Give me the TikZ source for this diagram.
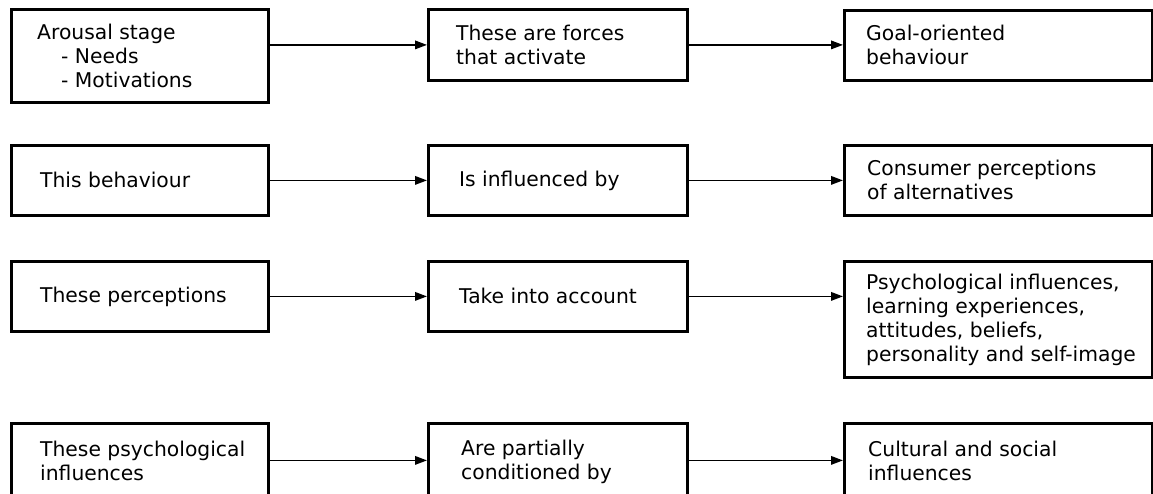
\documentclass[tikz,border=0pt]{standalone}
\usepackage{fontspec}
\setmainfont{DejaVu Sans}
\usetikzlibrary{arrows.meta}
\begin{document}
\begin{tikzpicture}[x=1pt, y=-1pt,
  stagebox/.style={draw, rectangle, line width=2.8pt, anchor=north west, inner sep=0pt},
  col1/.style={stagebox, minimum width=257pt},
  col2/.style={stagebox, minimum width=259pt},
  col3/.style={stagebox, minimum width=308pt},
  txt/.style={anchor=west, align=left, inner sep=0pt, font=\fontsize{20.3}{24}\selectfont},
  link/.style={line width=1.8pt, -{Triangle[length=12pt,width=8.5pt]}}]
\useasboundingbox (0,0) rectangle (1153,493);
\clip (0,0) rectangle (1153,493);

% Row 1
\node[col1, minimum height=93pt] (a1) at (10,8) {};
\node[col2, minimum height=71pt] (a2) at (427,8) {};
\node[col3, minimum height=70pt] (a3) at (843,9) {};
\node[txt] (ta1) at ([xshift=27pt]a1.west) {Arousal stage\\\hspace*{24pt}- Needs\\\hspace*{24pt}- Motivations};
\node[txt] (ta2) at ([xshift=29pt]a2.west) {These are forces\\that activate};
\node[txt] (ta3) at ([xshift=23pt]a3.west) {Goal-oriented\\behaviour};

% Row 2
\node[col1, minimum height=70pt] (b1) at (10,144) {};
\node[col2, minimum height=70pt] (b2) at (427,144) {};
\node[col3, minimum height=70pt] (b3) at (843,144) {};
\node[txt] (tb1) at ([xshift=30pt]b1.west) {This behaviour};
\node[txt] (tb2) at ([xshift=32pt]b2.west) {Is influenced by};
\node[txt] (tb3) at ([xshift=24pt]b3.west) {Consumer perceptions\\of alternatives};

% Row 3
\node[col1, minimum height=70pt] (c1) at (10,260) {};
\node[col2, minimum height=70pt] (c2) at (427,260) {};
\node[col3, minimum height=116pt] (c3) at (843,260) {};
\node[txt] (tc1) at ([xshift=30pt]c1.west) {These perceptions};
\node[txt] (tc2) at ([xshift=32pt]c2.west) {Take into account};
\node[txt] (tc3) at ([xshift=23pt]c3.west) {Psychological influences,\\learning experiences,\\attitudes, beliefs,\\personality and self-image};

% Row 4 (runs past the lower edge)
\node[col1, minimum height=74pt] (d1) at (10,422) {};
\node[col2, minimum height=74pt] (d2) at (427,422) {};
\node[col3, minimum height=74pt] (d3) at (843,422) {};
\node[txt] (td1) at ([xshift=30pt,yshift=-1pt]d1.west) {These psychological\\influences};
\node[txt] (td2) at ([xshift=34pt,yshift=-1pt]d2.west) {Are partially\\conditioned by};
\node[txt] (td3) at ([xshift=25pt,yshift=-1pt]d3.west) {Cultural and social\\influences};

% Connectors
\draw[link] (a1.east |- a2.west) -- (a2.west);
\draw[link] (a2.east) -- (a2.east -| a3.west);
\draw[link] (b1.east) -- (b2.west);
\draw[link] (b2.east) -- (b3.west);
\draw[link] (c1.east) -- (c2.west);
\draw[link] (c2.east) -- (c2.east -| c3.west);
\draw[link] (d1.east |- d2.west) -- (d2.west);
\draw[link] (d2.east) -- (d3.west);
\end{tikzpicture}
\end{document}
